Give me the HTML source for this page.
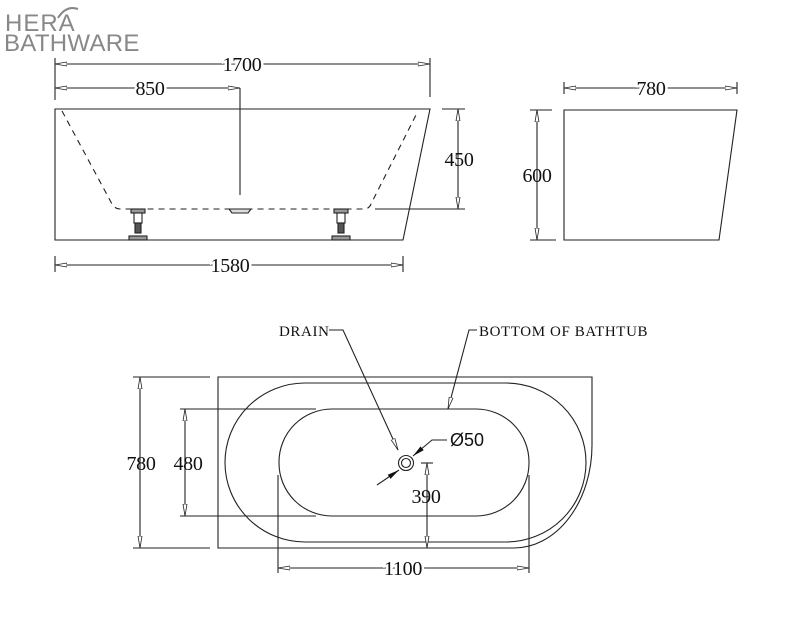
<!DOCTYPE html>
<html><head><meta charset="utf-8"><style>
html,body{margin:0;padding:0;background:#fff;}
svg{display:block;}
.d{font-family:"Liberation Serif",serif;font-size:20px;fill:#111;letter-spacing:-0.3px;}
.l{font-family:"Liberation Serif",serif;font-size:15px;fill:#111;letter-spacing:0.6px;}
.s{font-family:"Liberation Sans",sans-serif;font-size:18px;fill:#111;}
</style></head><body>
<svg width="796" height="636" viewBox="0 0 796 636" xmlns="http://www.w3.org/2000/svg">
<defs>
<marker id="a" viewBox="0 0 12 6" refX="12" refY="3" markerWidth="12" markerHeight="6" markerUnits="userSpaceOnUse" orient="auto-start-reverse">
<path d="M0,1 L12,3 L0,5 Z" fill="#fff" stroke="#222" stroke-width="0.8"/></marker>
<marker id="b" viewBox="0 0 12 6" refX="12" refY="3" markerWidth="12" markerHeight="6" markerUnits="userSpaceOnUse" orient="auto-start-reverse">
<path d="M0,0.5 L12,3 L0,5.5 Z" fill="#111"/></marker>
</defs>
<!-- logo -->
<text x="5" y="31" font-family="Liberation Sans,sans-serif" font-size="24" fill="#888" letter-spacing="1">HERA</text>
<path d="M58,18 Q66,5 78,9" stroke="#888" stroke-width="2" fill="none"/>
<text x="4" y="51" font-family="Liberation Sans,sans-serif" font-size="24" fill="#888" letter-spacing="0.3">BATHWARE</text>
<g stroke="#222" stroke-width="1.1" fill="none">
<!-- side view -->
<path d="M55,109 H430 L403,240 H55 Z"/>
<path d="M62,111 L112,204 Q115,209 120,209 H364 Q369,209 371,204 L418,111" stroke-dasharray="6,5"/>
<line x1="375" y1="209" x2="465" y2="209"/>
<line x1="442" y1="109" x2="465" y2="109"/>
<path d="M229,209 h22 l-3,4 h-16 z" fill="#ddd"/>
<line x1="240" y1="88" x2="240" y2="195"/>
<g fill="#999"><rect x="131" y="209" width="14" height="4"/><rect x="134" y="213" width="8" height="10" fill="#fff"/><rect x="135" y="223" width="6" height="10" fill="#555"/><rect x="129" y="236" width="18" height="4"/>
<rect x="334" y="209" width="14" height="4"/><rect x="337" y="213" width="8" height="10" fill="#fff"/><rect x="338" y="223" width="6" height="10" fill="#555"/><rect x="332" y="236" width="18" height="4"/></g>
<!-- dims side -->
<line x1="55" y1="58" x2="55" y2="100"/><line x1="430" y1="58" x2="430" y2="97"/>
<line x1="55" y1="64" x2="430" y2="64" marker-start="url(#a)" marker-end="url(#a)"/>
<line x1="55" y1="88" x2="240" y2="88" marker-start="url(#a)" marker-end="url(#a)"/>
<line x1="55" y1="256" x2="55" y2="272"/><line x1="403" y1="256" x2="403" y2="272"/>
<line x1="55" y1="265" x2="403" y2="265" marker-start="url(#a)" marker-end="url(#a)"/>
<line x1="458" y1="109" x2="458" y2="209" marker-start="url(#a)" marker-end="url(#a)"/>
<!-- end view -->
<path d="M564,110 H737 L719,240 H564 Z"/>
<line x1="564" y1="82" x2="564" y2="94"/><line x1="737" y1="82" x2="737" y2="94"/>
<line x1="564" y1="88" x2="737" y2="88" marker-start="url(#a)" marker-end="url(#a)"/>
<line x1="530" y1="110" x2="552" y2="110"/><line x1="530" y1="240" x2="556" y2="240"/>
<line x1="537" y1="110" x2="537" y2="240" marker-start="url(#a)" marker-end="url(#a)"/>
<!-- plan -->
<path d="M218,377 H592 V445 A78,103 0 0 1 514,548 H218 Z"/>
<rect x="225" y="383" width="361" height="159" rx="80" ry="80"/>
<rect x="279" y="409" width="250" height="107" rx="53" ry="53"/>
<circle cx="406" cy="463" r="7.5"/><circle cx="406" cy="463" r="4.5"/>
<line x1="133" y1="377" x2="210" y2="377"/><line x1="133" y1="548" x2="210" y2="548"/>
<line x1="140" y1="377" x2="140" y2="548" marker-start="url(#a)" marker-end="url(#a)"/>
<line x1="180" y1="409" x2="316" y2="409"/><line x1="180" y1="516" x2="316" y2="516"/>
<line x1="185" y1="409" x2="185" y2="516" marker-start="url(#a)" marker-end="url(#a)"/>
<line x1="278" y1="475" x2="278" y2="573"/><line x1="529" y1="475" x2="529" y2="573"/>
<line x1="278" y1="568" x2="529" y2="568" marker-start="url(#a)" marker-end="url(#a)"/>
<line x1="421" y1="463" x2="433" y2="463"/>
<line x1="427" y1="463" x2="427" y2="548" marker-start="url(#a)" marker-end="url(#a)"/>
<polyline points="329,330 343,330 398,450" marker-end="url(#a)"/>
<polyline points="477,330 469,330 448,409" marker-end="url(#a)"/>
<polyline points="447,440 432,440 413,456" marker-end="url(#b)"/>
<line x1="377" y1="485" x2="399" y2="470" marker-end="url(#b)"/>
</g>
<g stroke="#fff" stroke-width="5" paint-order="stroke">
<text class="d" x="242" y="71" text-anchor="middle">1700</text>
<text class="d" x="150" y="95" text-anchor="middle">850</text>
<text class="d" x="230" y="272" text-anchor="middle">1580</text>
<text class="d" x="651" y="95" text-anchor="middle">780</text>
<text class="d" x="403" y="575" text-anchor="middle">1100</text>
</g>
<text class="d" x="459" y="166" text-anchor="middle">450</text>
<text class="d" x="537" y="182" text-anchor="middle">600</text>
<text class="d" x="141" y="470" text-anchor="middle">780</text>
<text class="d" x="188" y="470" text-anchor="middle">480</text>
<text class="d" x="426" y="503" text-anchor="middle">390</text>
<text class="l" x="279" y="336">DRAIN</text>
<text class="l" x="479" y="336">BOTTOM OF BATHTUB</text>
<text class="s" x="450" y="446">Ø50</text>
</svg>
</body></html>
